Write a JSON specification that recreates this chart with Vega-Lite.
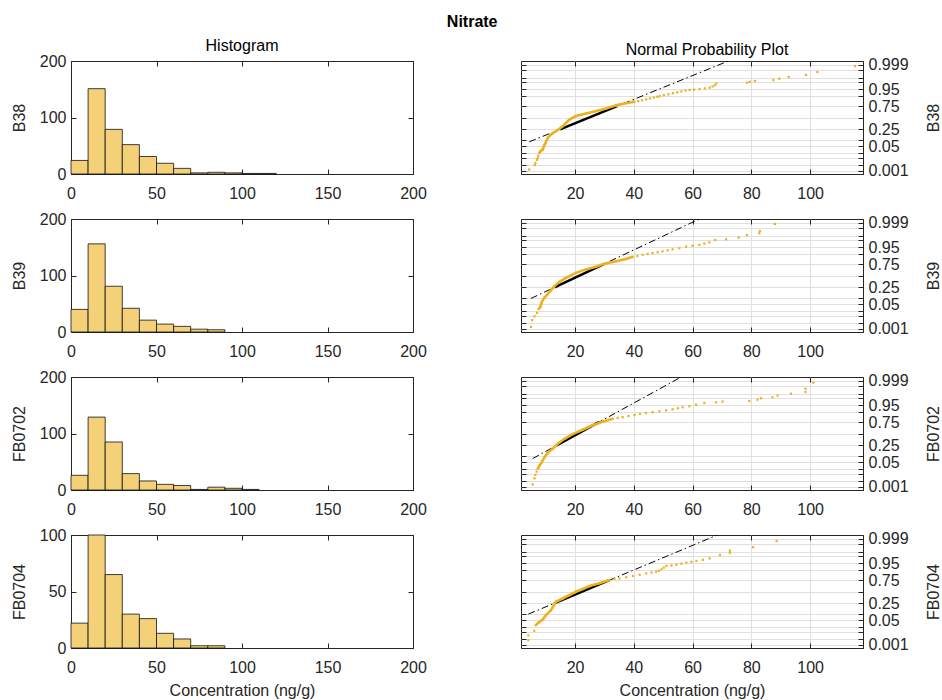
{
  "$schema": "https://vega.github.io/schema/vega-lite/v6.json",
  "padding": {"left": 10, "top": 13, "right": 2, "bottom": 0},
  "background": "white",
  "title": {"text": "Nitrate", "fontWeight": "bold", "fontSize": 16, "anchor": "middle", "color": "#000000", "offset": 8, "dx": -4},
  "spacing": 8,
  "datasets": {
    "hist": [
      {"s": "B38", "b0": 0, "b1": 10, "n": 24}, {"s": "B38", "b0": 10, "b1": 20, "n": 151}, {"s": "B38", "b0": 20, "b1": 30, "n": 79}, {"s": "B38", "b0": 30, "b1": 40, "n": 52}, {"s": "B38", "b0": 40, "b1": 50, "n": 31}, {"s": "B38", "b0": 50, "b1": 60, "n": 19}, {"s": "B38", "b0": 60, "b1": 70, "n": 10}, {"s": "B38", "b0": 70, "b1": 80, "n": 2}, {"s": "B38", "b0": 80, "b1": 90, "n": 3}, {"s": "B38", "b0": 90, "b1": 100, "n": 2}, {"s": "B38", "b0": 100, "b1": 110, "n": 1}, {"s": "B38", "b0": 110, "b1": 120, "n": 1},
      {"s": "B39", "b0": 0, "b1": 10, "n": 40}, {"s": "B39", "b0": 10, "b1": 20, "n": 156}, {"s": "B39", "b0": 20, "b1": 30, "n": 81}, {"s": "B39", "b0": 30, "b1": 40, "n": 42}, {"s": "B39", "b0": 40, "b1": 50, "n": 21}, {"s": "B39", "b0": 50, "b1": 60, "n": 14}, {"s": "B39", "b0": 60, "b1": 70, "n": 10}, {"s": "B39", "b0": 70, "b1": 80, "n": 5}, {"s": "B39", "b0": 80, "b1": 90, "n": 4},
      {"s": "FB0702", "b0": 0, "b1": 10, "n": 26}, {"s": "FB0702", "b0": 10, "b1": 20, "n": 129}, {"s": "FB0702", "b0": 20, "b1": 30, "n": 85}, {"s": "FB0702", "b0": 30, "b1": 40, "n": 29}, {"s": "FB0702", "b0": 40, "b1": 50, "n": 16}, {"s": "FB0702", "b0": 50, "b1": 60, "n": 10}, {"s": "FB0702", "b0": 60, "b1": 70, "n": 8}, {"s": "FB0702", "b0": 70, "b1": 80, "n": 1}, {"s": "FB0702", "b0": 80, "b1": 90, "n": 5}, {"s": "FB0702", "b0": 90, "b1": 100, "n": 3}, {"s": "FB0702", "b0": 100, "b1": 110, "n": 1},
      {"s": "FB0704", "b0": 0, "b1": 10, "n": 22}, {"s": "FB0704", "b0": 10, "b1": 20, "n": 100}, {"s": "FB0704", "b0": 20, "b1": 30, "n": 65}, {"s": "FB0704", "b0": 30, "b1": 40, "n": 30}, {"s": "FB0704", "b0": 40, "b1": 50, "n": 26}, {"s": "FB0704", "b0": 50, "b1": 60, "n": 13}, {"s": "FB0704", "b0": 60, "b1": 70, "n": 8}, {"s": "FB0704", "b0": 70, "b1": 80, "n": 2}, {"s": "FB0704", "b0": 80, "b1": 90, "n": 2}
    ],
    "fit": [
      {"s": "B38", "k": "dash", "v": 4.4, "z": -1.40}, {"s": "B38", "k": "dash", "v": 115.3, "z": 6.29},
      {"s": "B38", "k": "solid", "v": 14.9, "z": -0.674}, {"s": "B38", "k": "solid", "v": 34.3, "z": 0.674},
      {"s": "B39", "k": "dash", "v": 5.0, "z": -1.32}, {"s": "B39", "k": "dash", "v": 88.0, "z": 5.37},
      {"s": "B39", "k": "solid", "v": 13.0, "z": -0.674}, {"s": "B39", "k": "solid", "v": 29.8, "z": 0.674},
      {"s": "FB0702", "k": "dash", "v": 5.6, "z": -1.44}, {"s": "FB0702", "k": "dash", "v": 101.1, "z": 7.52},
      {"s": "FB0702", "k": "solid", "v": 13.7, "z": -0.674}, {"s": "FB0702", "k": "solid", "v": 28.1, "z": 0.674},
      {"s": "FB0704", "k": "dash", "v": 4.1, "z": -1.30}, {"s": "FB0704", "k": "dash", "v": 88.6, "z": 4.74},
      {"s": "FB0704", "k": "solid", "v": 12.9, "z": -0.674}, {"s": "FB0704", "k": "solid", "v": 31.7, "z": 0.674}
    ],
    "prob": [
      {"s": "B38", "d": 0, "v": 4.4, "z": -3.01}, {"s": "B38", "d": 0, "v": 6.3, "z": -2.75}, {"s": "B38", "d": 0, "v": 6.5, "z": -2.63}, {"s": "B38", "d": 0, "v": 7.0, "z": -2.45}, {"s": "B38", "d": 0, "v": 7.3, "z": -2.35}, {"s": "B38", "d": 0, "v": 7.5, "z": -2.2},
      {"s": "B38", "d": 1, "v": 7.8, "z": -2.04}, {"s": "B38", "d": 1, "v": 8.4, "z": -1.92}, {"s": "B38", "d": 1, "v": 9.0, "z": -1.85}, {"s": "B38", "d": 1, "v": 9.5, "z": -1.6}, {"s": "B38", "d": 1, "v": 10.0, "z": -1.45}, {"s": "B38", "d": 1, "v": 10.7, "z": -1.17}, {"s": "B38", "d": 1, "v": 11.8, "z": -0.97}, {"s": "B38", "d": 1, "v": 13.5, "z": -0.78}, {"s": "B38", "d": 1, "v": 15.8, "z": -0.49}, {"s": "B38", "d": 1, "v": 18.1, "z": -0.1}, {"s": "B38", "d": 1, "v": 20.3, "z": 0.1}, {"s": "B38", "d": 1, "v": 23.8, "z": 0.25}, {"s": "B38", "d": 1, "v": 27.2, "z": 0.39}, {"s": "B38", "d": 1, "v": 30.6, "z": 0.54}, {"s": "B38", "d": 1, "v": 34.0, "z": 0.72}, {"s": "B38", "d": 1, "v": 36.8, "z": 0.83}, {"s": "B38", "d": 1, "v": 40.2, "z": 0.93},
      {"s": "B38", "d": 0, "v": 41.5, "z": 0.97}, {"s": "B38", "d": 0, "v": 42.8, "z": 1.02}, {"s": "B38", "d": 0, "v": 44.2, "z": 1.07}, {"s": "B38", "d": 0, "v": 45.5, "z": 1.12}, {"s": "B38", "d": 0, "v": 46.8, "z": 1.17}, {"s": "B38", "d": 0, "v": 48.0, "z": 1.22}, {"s": "B38", "d": 0, "v": 48.8, "z": 1.26}, {"s": "B38", "d": 0, "v": 50.2, "z": 1.31}, {"s": "B38", "d": 0, "v": 51.8, "z": 1.37}, {"s": "B38", "d": 0, "v": 53.3, "z": 1.43}, {"s": "B38", "d": 0, "v": 54.8, "z": 1.48}, {"s": "B38", "d": 0, "v": 56.2, "z": 1.53}, {"s": "B38", "d": 0, "v": 57.6, "z": 1.58}, {"s": "B38", "d": 0, "v": 59.0, "z": 1.62}, {"s": "B38", "d": 0, "v": 60.5, "z": 1.64}, {"s": "B38", "d": 0, "v": 62.4, "z": 1.67}, {"s": "B38", "d": 0, "v": 64.2, "z": 1.71}, {"s": "B38", "d": 0, "v": 65.8, "z": 1.75}, {"s": "B38", "d": 0, "v": 66.8, "z": 1.82}, {"s": "B38", "d": 0, "v": 67.6, "z": 1.9}, {"s": "B38", "d": 0, "v": 68.1, "z": 2.0}, {"s": "B38", "d": 0, "v": 78.6, "z": 2.04}, {"s": "B38", "d": 0, "v": 79.5, "z": 2.09}, {"s": "B38", "d": 0, "v": 81.2, "z": 2.14}, {"s": "B38", "d": 0, "v": 87.5, "z": 2.19}, {"s": "B38", "d": 0, "v": 89.5, "z": 2.27}, {"s": "B38", "d": 0, "v": 92.7, "z": 2.37}, {"s": "B38", "d": 0, "v": 98.6, "z": 2.49}, {"s": "B38", "d": 0, "v": 102.5, "z": 2.66}, {"s": "B38", "d": 0, "v": 115.3, "z": 3.01},
      {"s": "B39", "d": 0, "v": 5.0, "z": -2.97}, {"s": "B39", "d": 0, "v": 5.4, "z": -2.58}, {"s": "B39", "d": 0, "v": 6.2, "z": -2.35}, {"s": "B39", "d": 0, "v": 7.1, "z": -2.16},
      {"s": "B39", "d": 1, "v": 7.6, "z": -1.94}, {"s": "B39", "d": 1, "v": 8.2, "z": -1.81}, {"s": "B39", "d": 1, "v": 8.7, "z": -1.52}, {"s": "B39", "d": 1, "v": 9.6, "z": -1.26}, {"s": "B39", "d": 1, "v": 10.7, "z": -1.07}, {"s": "B39", "d": 1, "v": 11.8, "z": -0.84}, {"s": "B39", "d": 1, "v": 13.0, "z": -0.6}, {"s": "B39", "d": 1, "v": 14.7, "z": -0.35}, {"s": "B39", "d": 1, "v": 16.9, "z": -0.12}, {"s": "B39", "d": 1, "v": 20.3, "z": 0.17}, {"s": "B39", "d": 1, "v": 23.7, "z": 0.37}, {"s": "B39", "d": 1, "v": 27.1, "z": 0.52}, {"s": "B39", "d": 1, "v": 30.5, "z": 0.72}, {"s": "B39", "d": 1, "v": 34.0, "z": 0.84}, {"s": "B39", "d": 1, "v": 37.3, "z": 0.97}, {"s": "B39", "d": 1, "v": 39.6, "z": 1.1},
      {"s": "B39", "d": 0, "v": 41.2, "z": 1.15}, {"s": "B39", "d": 0, "v": 43.0, "z": 1.22}, {"s": "B39", "d": 0, "v": 44.7, "z": 1.27}, {"s": "B39", "d": 0, "v": 46.4, "z": 1.32}, {"s": "B39", "d": 0, "v": 48.1, "z": 1.37}, {"s": "B39", "d": 0, "v": 49.8, "z": 1.42}, {"s": "B39", "d": 0, "v": 51.5, "z": 1.48}, {"s": "B39", "d": 0, "v": 53.2, "z": 1.54}, {"s": "B39", "d": 0, "v": 55.5, "z": 1.6}, {"s": "B39", "d": 0, "v": 57.8, "z": 1.69}, {"s": "B39", "d": 0, "v": 60.0, "z": 1.74}, {"s": "B39", "d": 0, "v": 62.3, "z": 1.79}, {"s": "B39", "d": 0, "v": 64.0, "z": 1.87}, {"s": "B39", "d": 0, "v": 65.7, "z": 1.94}, {"s": "B39", "d": 0, "v": 67.7, "z": 2.08}, {"s": "B39", "d": 0, "v": 71.4, "z": 2.12}, {"s": "B39", "d": 0, "v": 75.7, "z": 2.22}, {"s": "B39", "d": 0, "v": 78.5, "z": 2.37}, {"s": "B39", "d": 0, "v": 82.7, "z": 2.47}, {"s": "B39", "d": 0, "v": 82.9, "z": 2.6}, {"s": "B39", "d": 0, "v": 88.0, "z": 3.01},
      {"s": "FB0702", "d": 0, "v": 5.6, "z": -2.95}, {"s": "FB0702", "d": 0, "v": 6.2, "z": -2.59}, {"s": "FB0702", "d": 0, "v": 6.5, "z": -2.39}, {"s": "FB0702", "d": 0, "v": 6.9, "z": -2.2},
      {"s": "FB0702", "d": 1, "v": 7.3, "z": -2.04}, {"s": "FB0702", "d": 1, "v": 7.9, "z": -1.85}, {"s": "FB0702", "d": 1, "v": 8.7, "z": -1.65}, {"s": "FB0702", "d": 1, "v": 9.6, "z": -1.36}, {"s": "FB0702", "d": 1, "v": 10.7, "z": -1.11}, {"s": "FB0702", "d": 1, "v": 12.4, "z": -0.87}, {"s": "FB0702", "d": 1, "v": 14.1, "z": -0.58}, {"s": "FB0702", "d": 1, "v": 16.4, "z": -0.29}, {"s": "FB0702", "d": 1, "v": 19.2, "z": -0.02}, {"s": "FB0702", "d": 1, "v": 22.6, "z": 0.23}, {"s": "FB0702", "d": 1, "v": 26.0, "z": 0.49}, {"s": "FB0702", "d": 1, "v": 29.4, "z": 0.7}, {"s": "FB0702", "d": 1, "v": 32.8, "z": 0.87},
      {"s": "FB0702", "d": 0, "v": 34.5, "z": 0.92}, {"s": "FB0702", "d": 0, "v": 36.2, "z": 0.97}, {"s": "FB0702", "d": 0, "v": 38.2, "z": 1.03}, {"s": "FB0702", "d": 0, "v": 40.2, "z": 1.09}, {"s": "FB0702", "d": 0, "v": 42.1, "z": 1.15}, {"s": "FB0702", "d": 0, "v": 44.1, "z": 1.21}, {"s": "FB0702", "d": 0, "v": 46.4, "z": 1.25}, {"s": "FB0702", "d": 0, "v": 48.7, "z": 1.3}, {"s": "FB0702", "d": 0, "v": 51.0, "z": 1.36}, {"s": "FB0702", "d": 0, "v": 53.2, "z": 1.42}, {"s": "FB0702", "d": 0, "v": 55.0, "z": 1.48}, {"s": "FB0702", "d": 0, "v": 56.6, "z": 1.54}, {"s": "FB0702", "d": 0, "v": 58.9, "z": 1.6}, {"s": "FB0702", "d": 0, "v": 61.2, "z": 1.69}, {"s": "FB0702", "d": 0, "v": 64.0, "z": 1.79}, {"s": "FB0702", "d": 0, "v": 68.0, "z": 1.83}, {"s": "FB0702", "d": 0, "v": 70.2, "z": 1.87}, {"s": "FB0702", "d": 0, "v": 79.3, "z": 1.9}, {"s": "FB0702", "d": 0, "v": 82.1, "z": 1.98}, {"s": "FB0702", "d": 0, "v": 83.3, "z": 2.06}, {"s": "FB0702", "d": 0, "v": 87.2, "z": 2.12}, {"s": "FB0702", "d": 0, "v": 88.9, "z": 2.22}, {"s": "FB0702", "d": 0, "v": 93.5, "z": 2.33}, {"s": "FB0702", "d": 0, "v": 98.4, "z": 2.43}, {"s": "FB0702", "d": 0, "v": 98.4, "z": 2.62}, {"s": "FB0702", "d": 0, "v": 101.1, "z": 2.97},
      {"s": "FB0704", "d": 0, "v": 4.1, "z": -2.82}, {"s": "FB0704", "d": 0, "v": 4.1, "z": -2.53}, {"s": "FB0704", "d": 0, "v": 6.1, "z": -2.27},
      {"s": "FB0704", "d": 1, "v": 6.6, "z": -1.94}, {"s": "FB0704", "d": 1, "v": 7.6, "z": -1.79}, {"s": "FB0704", "d": 1, "v": 9.0, "z": -1.61}, {"s": "FB0704", "d": 1, "v": 10.1, "z": -1.36}, {"s": "FB0704", "d": 1, "v": 11.8, "z": -1.07}, {"s": "FB0704", "d": 1, "v": 13.5, "z": -0.58}, {"s": "FB0704", "d": 1, "v": 15.8, "z": -0.39}, {"s": "FB0704", "d": 1, "v": 18.1, "z": -0.19}, {"s": "FB0704", "d": 1, "v": 20.3, "z": 0.0}, {"s": "FB0704", "d": 1, "v": 22.6, "z": 0.16}, {"s": "FB0704", "d": 1, "v": 24.9, "z": 0.33}, {"s": "FB0704", "d": 1, "v": 28.3, "z": 0.49}, {"s": "FB0704", "d": 1, "v": 31.7, "z": 0.68},
      {"s": "FB0704", "d": 0, "v": 33.4, "z": 0.74}, {"s": "FB0704", "d": 0, "v": 35.1, "z": 0.78}, {"s": "FB0704", "d": 0, "v": 37.4, "z": 0.84}, {"s": "FB0704", "d": 0, "v": 39.7, "z": 0.91}, {"s": "FB0704", "d": 0, "v": 42.0, "z": 0.99}, {"s": "FB0704", "d": 0, "v": 44.2, "z": 1.07}, {"s": "FB0704", "d": 0, "v": 46.0, "z": 1.12}, {"s": "FB0704", "d": 0, "v": 47.6, "z": 1.17}, {"s": "FB0704", "d": 0, "v": 48.5, "z": 1.22}, {"s": "FB0704", "d": 0, "v": 49.4, "z": 1.3}, {"s": "FB0704", "d": 0, "v": 50.2, "z": 1.4}, {"s": "FB0704", "d": 0, "v": 51.1, "z": 1.5}, {"s": "FB0704", "d": 0, "v": 52.8, "z": 1.53}, {"s": "FB0704", "d": 0, "v": 54.5, "z": 1.57}, {"s": "FB0704", "d": 0, "v": 56.2, "z": 1.63}, {"s": "FB0704", "d": 0, "v": 57.9, "z": 1.69}, {"s": "FB0704", "d": 0, "v": 59.6, "z": 1.74}, {"s": "FB0704", "d": 0, "v": 61.3, "z": 1.79}, {"s": "FB0704", "d": 0, "v": 63.5, "z": 1.86}, {"s": "FB0704", "d": 0, "v": 65.8, "z": 1.94}, {"s": "FB0704", "d": 0, "v": 69.3, "z": 2.14}, {"s": "FB0704", "d": 0, "v": 72.7, "z": 2.27}, {"s": "FB0704", "d": 0, "v": 72.7, "z": 2.39}, {"s": "FB0704", "d": 0, "v": 80.6, "z": 2.59}, {"s": "FB0704", "d": 0, "v": 88.6, "z": 2.95}
    ]
  },
  "vconcat": [
    {"spacing": 93, "hconcat": [
      {"width": 342, "height": 113, "title": {"text": "Histogram", "offset": -1},
       "layer": [
        {"data": {"name": "hist"}, "transform": [{"filter": "datum.s === 'B38'"}],
         "mark": {"type": "bar", "fill": "#F4D079", "stroke": "#111111", "strokeWidth": 0.8},
         "encoding": {
          "x": {"field": "b0", "type": "quantitative", "scale": {"domain": [0, 200], "nice": false, "padding": 0}, "axis": {"orient": "bottom", "values": [0, 50, 100, 150, 200], "title": null, "grid": false}},
          "x2": {"field": "b1"},
          "y": {"field": "n", "type": "quantitative", "scale": {"domain": [0, 200], "nice": false, "padding": 0}, "axis": {"orient": "left", "values": [0, 100, 200], "title": "B38", "grid": false}},
          "y2": {"datum": 0}}},
        {"data": {"name": "hist"}, "transform": [{"filter": "datum.s === 'B38'"}],
         "mark": {"type": "bar", "opacity": 0},
         "encoding": {
          "x": {"field": "b0", "type": "quantitative", "scale": {"domain": [0, 200], "nice": false, "padding": 0}, "axis": {"orient": "top", "values": [0, 50, 100, 150, 200], "labels": false, "labelPadding": 0, "titlePadding": 0, "title": null, "domain": false, "grid": false}},
          "x2": {"field": "b1"},
          "y": {"field": "n", "type": "quantitative", "scale": {"domain": [0, 200], "nice": false, "padding": 0}, "axis": {"orient": "right", "values": [0, 100, 200], "labels": false, "labelPadding": 0, "titlePadding": 0, "title": null, "domain": false, "grid": false}},
          "y2": {"datum": 0}}}
       ],
       "resolve": {"axis": {"x": "independent", "y": "independent"}}},
      {"width": 342, "height": 113, "title": {"text": "Normal Probability Plot", "dx": 15, "offset": -1},
       "layer": [
        {"data": {"name": "fit"}, "transform": [{"filter": "datum.s === 'B38' && datum.k === 'dash'"}],
         "mark": {"type": "line", "color": "#000000", "strokeWidth": 1, "strokeDash": [7, 3, 1.5, 3], "clip": true},
         "encoding": {
          "x": {"field": "v", "type": "quantitative", "scale": {"domain": [1.6, 118], "nice": false, "zero": false}, "axis": {"orient": "bottom", "values": [20, 40, 60, 80, 100], "grid": true, "title": null}},
          "y": {"field": "z", "type": "quantitative", "scale": {"domain": [-3.27, 3.3], "nice": false, "zero": false}, "axis": {"orient": "right", "values": [-3.0902, -2.7478, -2.3263, -2.0537, -1.6449, -1.2816, -0.6745, 0, 0.6745, 1.2816, 1.6449, 2.0537, 2.3263, 2.7478, 3.0902], "grid": true, "title": "B38", "titleAngle": 270, "titleBaseline": "top", "titlePadding": 17, "labelExpr": "abs(datum.value-3.0902)<0.01?'0.999':abs(datum.value-1.6449)<0.01?'0.95':abs(datum.value-0.6745)<0.01?'0.75':abs(datum.value+0.6745)<0.01?'0.25':abs(datum.value+1.6449)<0.01?'0.05':abs(datum.value+3.0902)<0.01?'0.001':''"}}}},
        {"data": {"name": "fit"}, "transform": [{"filter": "datum.s === 'B38' && datum.k === 'solid'"}],
         "mark": {"type": "line", "color": "#000000", "strokeWidth": 2.6, "clip": true},
         "encoding": {
          "x": {"field": "v", "type": "quantitative", "scale": {"domain": [1.6, 118], "nice": false, "zero": false}, "axis": {"orient": "top", "values": [20, 40, 60, 80, 100], "labels": false, "labelPadding": 0, "titlePadding": 0, "title": null, "domain": false, "grid": false}},
          "y": {"field": "z", "type": "quantitative", "scale": {"domain": [-3.27, 3.3], "nice": false, "zero": false}, "axis": {"orient": "left", "values": [-3.0902, -2.7478, -2.3263, -2.0537, -1.6449, -1.2816, -0.6745, 0, 0.6745, 1.2816, 1.6449, 2.0537, 2.3263, 2.7478, 3.0902], "labels": false, "labelPadding": 0, "titlePadding": 0, "title": null, "domain": false, "grid": false}}}},
        {"data": {"name": "prob"}, "transform": [{"filter": "datum.s === 'B38' && datum.d === 1"}],
         "mark": {"type": "line", "color": "#EDB120", "strokeWidth": 2.6},
         "encoding": {"x": {"field": "v", "type": "quantitative", "axis": null}, "y": {"field": "z", "type": "quantitative", "axis": null}}},
        {"data": {"name": "prob"}, "transform": [{"filter": "datum.s === 'B38'"}],
         "mark": {"type": "square", "color": "#EDB120", "size": 5, "opacity": 1},
         "encoding": {"x": {"field": "v", "type": "quantitative", "axis": null}, "y": {"field": "z", "type": "quantitative", "axis": null}}}
       ],
       "resolve": {"axis": {"x": "independent", "y": "independent"}}}
    ]},
    {"spacing": 93, "hconcat": [
      {"width": 342, "height": 113,
       "layer": [
        {"data": {"name": "hist"}, "transform": [{"filter": "datum.s === 'B39'"}],
         "mark": {"type": "bar", "fill": "#F4D079", "stroke": "#111111", "strokeWidth": 0.8},
         "encoding": {
          "x": {"field": "b0", "type": "quantitative", "scale": {"domain": [0, 200], "nice": false, "padding": 0}, "axis": {"orient": "bottom", "values": [0, 50, 100, 150, 200], "title": null, "grid": false}},
          "x2": {"field": "b1"},
          "y": {"field": "n", "type": "quantitative", "scale": {"domain": [0, 200], "nice": false, "padding": 0}, "axis": {"orient": "left", "values": [0, 100, 200], "title": "B39", "grid": false}},
          "y2": {"datum": 0}}},
        {"data": {"name": "hist"}, "transform": [{"filter": "datum.s === 'B39'"}],
         "mark": {"type": "bar", "opacity": 0},
         "encoding": {
          "x": {"field": "b0", "type": "quantitative", "scale": {"domain": [0, 200], "nice": false, "padding": 0}, "axis": {"orient": "top", "values": [0, 50, 100, 150, 200], "labels": false, "labelPadding": 0, "titlePadding": 0, "title": null, "domain": false, "grid": false}},
          "x2": {"field": "b1"},
          "y": {"field": "n", "type": "quantitative", "scale": {"domain": [0, 200], "nice": false, "padding": 0}, "axis": {"orient": "right", "values": [0, 100, 200], "labels": false, "labelPadding": 0, "titlePadding": 0, "title": null, "domain": false, "grid": false}},
          "y2": {"datum": 0}}}
       ],
       "resolve": {"axis": {"x": "independent", "y": "independent"}}},
      {"width": 342, "height": 113,
       "layer": [
        {"data": {"name": "fit"}, "transform": [{"filter": "datum.s === 'B39' && datum.k === 'dash'"}],
         "mark": {"type": "line", "color": "#000000", "strokeWidth": 1, "strokeDash": [7, 3, 1.5, 3], "clip": true},
         "encoding": {
          "x": {"field": "v", "type": "quantitative", "scale": {"domain": [1.6, 118], "nice": false, "zero": false}, "axis": {"orient": "bottom", "values": [20, 40, 60, 80, 100], "grid": true, "title": null}},
          "y": {"field": "z", "type": "quantitative", "scale": {"domain": [-3.27, 3.3], "nice": false, "zero": false}, "axis": {"orient": "right", "values": [-3.0902, -2.7478, -2.3263, -2.0537, -1.6449, -1.2816, -0.6745, 0, 0.6745, 1.2816, 1.6449, 2.0537, 2.3263, 2.7478, 3.0902], "grid": true, "title": "B39", "titleAngle": 270, "titleBaseline": "top", "titlePadding": 17, "labelExpr": "abs(datum.value-3.0902)<0.01?'0.999':abs(datum.value-1.6449)<0.01?'0.95':abs(datum.value-0.6745)<0.01?'0.75':abs(datum.value+0.6745)<0.01?'0.25':abs(datum.value+1.6449)<0.01?'0.05':abs(datum.value+3.0902)<0.01?'0.001':''"}}}},
        {"data": {"name": "fit"}, "transform": [{"filter": "datum.s === 'B39' && datum.k === 'solid'"}],
         "mark": {"type": "line", "color": "#000000", "strokeWidth": 2.6, "clip": true},
         "encoding": {
          "x": {"field": "v", "type": "quantitative", "scale": {"domain": [1.6, 118], "nice": false, "zero": false}, "axis": {"orient": "top", "values": [20, 40, 60, 80, 100], "labels": false, "labelPadding": 0, "titlePadding": 0, "title": null, "domain": false, "grid": false}},
          "y": {"field": "z", "type": "quantitative", "scale": {"domain": [-3.27, 3.3], "nice": false, "zero": false}, "axis": {"orient": "left", "values": [-3.0902, -2.7478, -2.3263, -2.0537, -1.6449, -1.2816, -0.6745, 0, 0.6745, 1.2816, 1.6449, 2.0537, 2.3263, 2.7478, 3.0902], "labels": false, "labelPadding": 0, "titlePadding": 0, "title": null, "domain": false, "grid": false}}}},
        {"data": {"name": "prob"}, "transform": [{"filter": "datum.s === 'B39' && datum.d === 1"}],
         "mark": {"type": "line", "color": "#EDB120", "strokeWidth": 2.6},
         "encoding": {"x": {"field": "v", "type": "quantitative", "axis": null}, "y": {"field": "z", "type": "quantitative", "axis": null}}},
        {"data": {"name": "prob"}, "transform": [{"filter": "datum.s === 'B39'"}],
         "mark": {"type": "square", "color": "#EDB120", "size": 5, "opacity": 1},
         "encoding": {"x": {"field": "v", "type": "quantitative", "axis": null}, "y": {"field": "z", "type": "quantitative", "axis": null}}}
       ],
       "resolve": {"axis": {"x": "independent", "y": "independent"}}}
    ]},
    {"spacing": 93, "hconcat": [
      {"width": 342, "height": 113,
       "layer": [
        {"data": {"name": "hist"}, "transform": [{"filter": "datum.s === 'FB0702'"}],
         "mark": {"type": "bar", "fill": "#F4D079", "stroke": "#111111", "strokeWidth": 0.8},
         "encoding": {
          "x": {"field": "b0", "type": "quantitative", "scale": {"domain": [0, 200], "nice": false, "padding": 0}, "axis": {"orient": "bottom", "values": [0, 50, 100, 150, 200], "title": null, "grid": false}},
          "x2": {"field": "b1"},
          "y": {"field": "n", "type": "quantitative", "scale": {"domain": [0, 200], "nice": false, "padding": 0}, "axis": {"orient": "left", "values": [0, 100, 200], "title": "FB0702", "grid": false}},
          "y2": {"datum": 0}}},
        {"data": {"name": "hist"}, "transform": [{"filter": "datum.s === 'FB0702'"}],
         "mark": {"type": "bar", "opacity": 0},
         "encoding": {
          "x": {"field": "b0", "type": "quantitative", "scale": {"domain": [0, 200], "nice": false, "padding": 0}, "axis": {"orient": "top", "values": [0, 50, 100, 150, 200], "labels": false, "labelPadding": 0, "titlePadding": 0, "title": null, "domain": false, "grid": false}},
          "x2": {"field": "b1"},
          "y": {"field": "n", "type": "quantitative", "scale": {"domain": [0, 200], "nice": false, "padding": 0}, "axis": {"orient": "right", "values": [0, 100, 200], "labels": false, "labelPadding": 0, "titlePadding": 0, "title": null, "domain": false, "grid": false}},
          "y2": {"datum": 0}}}
       ],
       "resolve": {"axis": {"x": "independent", "y": "independent"}}},
      {"width": 342, "height": 113,
       "layer": [
        {"data": {"name": "fit"}, "transform": [{"filter": "datum.s === 'FB0702' && datum.k === 'dash'"}],
         "mark": {"type": "line", "color": "#000000", "strokeWidth": 1, "strokeDash": [7, 3, 1.5, 3], "clip": true},
         "encoding": {
          "x": {"field": "v", "type": "quantitative", "scale": {"domain": [1.6, 118], "nice": false, "zero": false}, "axis": {"orient": "bottom", "values": [20, 40, 60, 80, 100], "grid": true, "title": null}},
          "y": {"field": "z", "type": "quantitative", "scale": {"domain": [-3.27, 3.3], "nice": false, "zero": false}, "axis": {"orient": "right", "values": [-3.0902, -2.7478, -2.3263, -2.0537, -1.6449, -1.2816, -0.6745, 0, 0.6745, 1.2816, 1.6449, 2.0537, 2.3263, 2.7478, 3.0902], "grid": true, "title": "FB0702", "titleAngle": 270, "titleBaseline": "top", "titlePadding": 17, "labelExpr": "abs(datum.value-3.0902)<0.01?'0.999':abs(datum.value-1.6449)<0.01?'0.95':abs(datum.value-0.6745)<0.01?'0.75':abs(datum.value+0.6745)<0.01?'0.25':abs(datum.value+1.6449)<0.01?'0.05':abs(datum.value+3.0902)<0.01?'0.001':''"}}}},
        {"data": {"name": "fit"}, "transform": [{"filter": "datum.s === 'FB0702' && datum.k === 'solid'"}],
         "mark": {"type": "line", "color": "#000000", "strokeWidth": 2.6, "clip": true},
         "encoding": {
          "x": {"field": "v", "type": "quantitative", "scale": {"domain": [1.6, 118], "nice": false, "zero": false}, "axis": {"orient": "top", "values": [20, 40, 60, 80, 100], "labels": false, "labelPadding": 0, "titlePadding": 0, "title": null, "domain": false, "grid": false}},
          "y": {"field": "z", "type": "quantitative", "scale": {"domain": [-3.27, 3.3], "nice": false, "zero": false}, "axis": {"orient": "left", "values": [-3.0902, -2.7478, -2.3263, -2.0537, -1.6449, -1.2816, -0.6745, 0, 0.6745, 1.2816, 1.6449, 2.0537, 2.3263, 2.7478, 3.0902], "labels": false, "labelPadding": 0, "titlePadding": 0, "title": null, "domain": false, "grid": false}}}},
        {"data": {"name": "prob"}, "transform": [{"filter": "datum.s === 'FB0702' && datum.d === 1"}],
         "mark": {"type": "line", "color": "#EDB120", "strokeWidth": 2.6},
         "encoding": {"x": {"field": "v", "type": "quantitative", "axis": null}, "y": {"field": "z", "type": "quantitative", "axis": null}}},
        {"data": {"name": "prob"}, "transform": [{"filter": "datum.s === 'FB0702'"}],
         "mark": {"type": "square", "color": "#EDB120", "size": 5, "opacity": 1},
         "encoding": {"x": {"field": "v", "type": "quantitative", "axis": null}, "y": {"field": "z", "type": "quantitative", "axis": null}}}
       ],
       "resolve": {"axis": {"x": "independent", "y": "independent"}}}
    ]},
    {"spacing": 93, "hconcat": [
      {"width": 342, "height": 113,
       "layer": [
        {"data": {"name": "hist"}, "transform": [{"filter": "datum.s === 'FB0704'"}],
         "mark": {"type": "bar", "fill": "#F4D079", "stroke": "#111111", "strokeWidth": 0.8},
         "encoding": {
          "x": {"field": "b0", "type": "quantitative", "scale": {"domain": [0, 200], "nice": false, "padding": 0}, "axis": {"orient": "bottom", "values": [0, 50, 100, 150, 200], "title": "Concentration (ng/g)", "grid": false}},
          "x2": {"field": "b1"},
          "y": {"field": "n", "type": "quantitative", "scale": {"domain": [0, 100], "nice": false, "padding": 0}, "axis": {"orient": "left", "values": [0, 50, 100], "title": "FB0704", "grid": false}},
          "y2": {"datum": 0}}},
        {"data": {"name": "hist"}, "transform": [{"filter": "datum.s === 'FB0704'"}],
         "mark": {"type": "bar", "opacity": 0},
         "encoding": {
          "x": {"field": "b0", "type": "quantitative", "scale": {"domain": [0, 200], "nice": false, "padding": 0}, "axis": {"orient": "top", "values": [0, 50, 100, 150, 200], "labels": false, "labelPadding": 0, "titlePadding": 0, "title": null, "domain": false, "grid": false}},
          "x2": {"field": "b1"},
          "y": {"field": "n", "type": "quantitative", "scale": {"domain": [0, 100], "nice": false, "padding": 0}, "axis": {"orient": "right", "values": [0, 50, 100], "labels": false, "labelPadding": 0, "titlePadding": 0, "title": null, "domain": false, "grid": false}},
          "y2": {"datum": 0}}}
       ],
       "resolve": {"axis": {"x": "independent", "y": "independent"}}},
      {"width": 342, "height": 113,
       "layer": [
        {"data": {"name": "fit"}, "transform": [{"filter": "datum.s === 'FB0704' && datum.k === 'dash'"}],
         "mark": {"type": "line", "color": "#000000", "strokeWidth": 1, "strokeDash": [7, 3, 1.5, 3], "clip": true},
         "encoding": {
          "x": {"field": "v", "type": "quantitative", "scale": {"domain": [1.6, 118], "nice": false, "zero": false}, "axis": {"orient": "bottom", "values": [20, 40, 60, 80, 100], "grid": true, "title": "Concentration (ng/g)"}},
          "y": {"field": "z", "type": "quantitative", "scale": {"domain": [-3.27, 3.3], "nice": false, "zero": false}, "axis": {"orient": "right", "values": [-3.0902, -2.7478, -2.3263, -2.0537, -1.6449, -1.2816, -0.6745, 0, 0.6745, 1.2816, 1.6449, 2.0537, 2.3263, 2.7478, 3.0902], "grid": true, "title": "FB0704", "titleAngle": 270, "titleBaseline": "top", "titlePadding": 17, "labelExpr": "abs(datum.value-3.0902)<0.01?'0.999':abs(datum.value-1.6449)<0.01?'0.95':abs(datum.value-0.6745)<0.01?'0.75':abs(datum.value+0.6745)<0.01?'0.25':abs(datum.value+1.6449)<0.01?'0.05':abs(datum.value+3.0902)<0.01?'0.001':''"}}}},
        {"data": {"name": "fit"}, "transform": [{"filter": "datum.s === 'FB0704' && datum.k === 'solid'"}],
         "mark": {"type": "line", "color": "#000000", "strokeWidth": 2.6, "clip": true},
         "encoding": {
          "x": {"field": "v", "type": "quantitative", "scale": {"domain": [1.6, 118], "nice": false, "zero": false}, "axis": {"orient": "top", "values": [20, 40, 60, 80, 100], "labels": false, "labelPadding": 0, "titlePadding": 0, "title": null, "domain": false, "grid": false}},
          "y": {"field": "z", "type": "quantitative", "scale": {"domain": [-3.27, 3.3], "nice": false, "zero": false}, "axis": {"orient": "left", "values": [-3.0902, -2.7478, -2.3263, -2.0537, -1.6449, -1.2816, -0.6745, 0, 0.6745, 1.2816, 1.6449, 2.0537, 2.3263, 2.7478, 3.0902], "labels": false, "labelPadding": 0, "titlePadding": 0, "title": null, "domain": false, "grid": false}}}},
        {"data": {"name": "prob"}, "transform": [{"filter": "datum.s === 'FB0704' && datum.d === 1"}],
         "mark": {"type": "line", "color": "#EDB120", "strokeWidth": 2.6},
         "encoding": {"x": {"field": "v", "type": "quantitative", "axis": null}, "y": {"field": "z", "type": "quantitative", "axis": null}}},
        {"data": {"name": "prob"}, "transform": [{"filter": "datum.s === 'FB0704'"}],
         "mark": {"type": "square", "color": "#EDB120", "size": 5, "opacity": 1},
         "encoding": {"x": {"field": "v", "type": "quantitative", "axis": null}, "y": {"field": "z", "type": "quantitative", "axis": null}}}
       ],
       "resolve": {"axis": {"x": "independent", "y": "independent"}}}
    ]}
  ],
  "config": {
    "font": "Liberation Sans",
    "view": {"stroke": "#262626", "strokeWidth": 1},
    "scale": {"continuousPadding": 0},
    "axis": {"labelFont": "Liberation Sans", "titleFont": "Liberation Sans", "labelFontSize": 16, "titleFontSize": 16, "titleFontWeight": "normal", "labelColor": "#262626", "titleColor": "#262626", "tickColor": "#262626", "domainColor": "#262626", "tickSize": -5, "labelPadding": 10, "gridColor": "#e0e0e0", "labelOverlap": false, "labelFlush": false, "labelBound": false},
    "axisX": {"labelPadding": 16, "titlePadding": 7},
    "axisY": {"titlePadding": 12},
    "title": {"font": "Liberation Sans", "fontSize": 16, "fontWeight": "normal", "color": "#000000"}
  }
}
